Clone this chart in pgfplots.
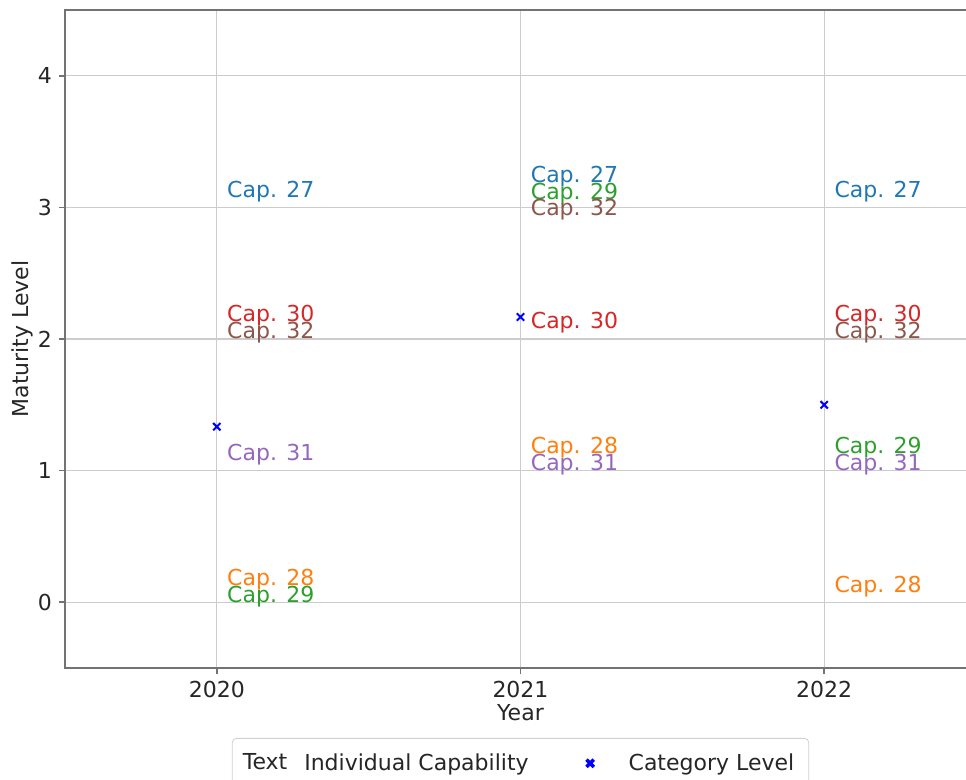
\documentclass[border=0pt]{standalone}
\usepackage{pgfplots}
\pgfplotsset{compat=1.18}
\usepackage{pgfplotstable}
\usepackage{fontspec}
\setmainfont{DejaVu Sans}
\definecolor{c27}{HTML}{1F77B4}
\definecolor{c28}{HTML}{FF7F0E}
\definecolor{c29}{HTML}{2CA02C}
\definecolor{c30}{HTML}{D62728}
\definecolor{c31}{HTML}{9467BD}
\definecolor{c32}{HTML}{8C564B}
% x = year, y = maturity level, dy = stacking offset of the label (pt)
\pgfplotstableread{
x y dy
2020 3 0
2021 3 7.25
2022 3 0
}\capA
\pgfplotstableread{
x y dy
2020 0 3.5
2021 1 3.5
2022 0 0
}\capB
\pgfplotstableread{
x y dy
2020 0 -5.0
2021 3 -1.0
2022 1 3.5
}\capC
\pgfplotstableread{
x y dy
2020 2 3.5
2021 2 0
2022 2 3.5
}\capD
\pgfplotstableread{
x y dy
2020 1 0
2021 1 -5.0
2022 1 -5.0
}\capE
\pgfplotstableread{
x y dy
2020 2 -5.0
2021 3 -9.25
2022 2 -5.0
}\capF
\pgfplotstableread{
x y
2020 1.3333
2021 2.1667
2022 1.5
}\catlevel
\pgfplotsset{
  caplabel/.style n args={2}{
    draw=none, mark=none, forget plot,
    visualization depends on={\thisrow{dy} \as \dy},
    nodes near coords={#1},
    every node near coord/.style={anchor=west, inner sep=0pt, text=#2,
      xshift=5pt, yshift={(\dy+8.0)*1pt}},
  }
}
\begin{document}
\begin{tikzpicture}
\useasboundingbox (0,0) rectangle (483pt,390pt);
\begin{axis}[
  at={(32.5pt,56pt)}, anchor=south west,
  scale only axis, width=455.5pt, height=329pt,
  xmin=2019.5, xmax=2022.5, ymin=-0.5, ymax=4.5,
  xtick={2020,2021,2022}, ytick={0,1,2,3,4},
  grid=major,
  major grid style={gray!40, line width=0.6pt},
  axis line style={black!55, line width=1pt},
  tick style={black!55, line width=0.8pt},
  tick align=outside, major tick length=3pt,
  xtick pos=bottom, ytick pos=left,
  font=\fontsize{11}{13}\selectfont,
  /pgf/number format/assume math mode=true,
  /pgf/number format/1000 sep={},
  ticklabel style={font=\fontsize{11}{13}\selectfont, text=black!85},
  xlabel={Year}, ylabel={Maturity Level},
  xlabel style={at={(axis description cs:0.5,-0.0684)}, anchor=center, text=black!85},
  ylabel style={at={(axis description cs:-0.0472,0.5)}, anchor=center, text=black!85},
  legend columns=2,
  legend style={at={(axis description cs:0.5,-0.1064)}, anchor=north,
    draw=black!18, rounded corners=2pt, fill=white,
    inner xsep=5.25pt, inner ysep=5.5pt,
    font=\fontsize{11}{13}\selectfont, text=black!85,
    /tikz/every odd column/.append style={column sep=6.5pt},
    /tikz/every even column/.append style={column sep=18pt}},
]
\addplot[caplabel={Cap. 27}{c27}] table[x=x,y=y] {\capA};
\addplot[caplabel={Cap. 28}{c28}] table[x=x,y=y] {\capB};
\addplot[caplabel={Cap. 29}{c29}] table[x=x,y=y] {\capC};
\addplot[caplabel={Cap. 30}{c30}] table[x=x,y=y] {\capD};
\addplot[caplabel={Cap. 31}{c31}] table[x=x,y=y] {\capE};
\addplot[caplabel={Cap. 32}{c32}] table[x=x,y=y] {\capF};
\addlegendimage{legend image code/.code={\node[anchor=west, inner sep=0pt] at (0pt,0pt) {Text};}}
\addlegendentry{Individual Capability}
\addplot[only marks, mark=x, mark size=2.6pt, blue, line width=1pt,
  legend image code/.code={\path[draw=none, fill=none] (0pt,-3pt) rectangle (21.5pt,3pt);
    \draw[line width=1.7pt] plot[only marks] coordinates {(10.75pt,0pt)};}]
  table[x=x,y=y] {\catlevel};
\addlegendentry{Category Level}
\end{axis}
\end{tikzpicture}
\end{document}
